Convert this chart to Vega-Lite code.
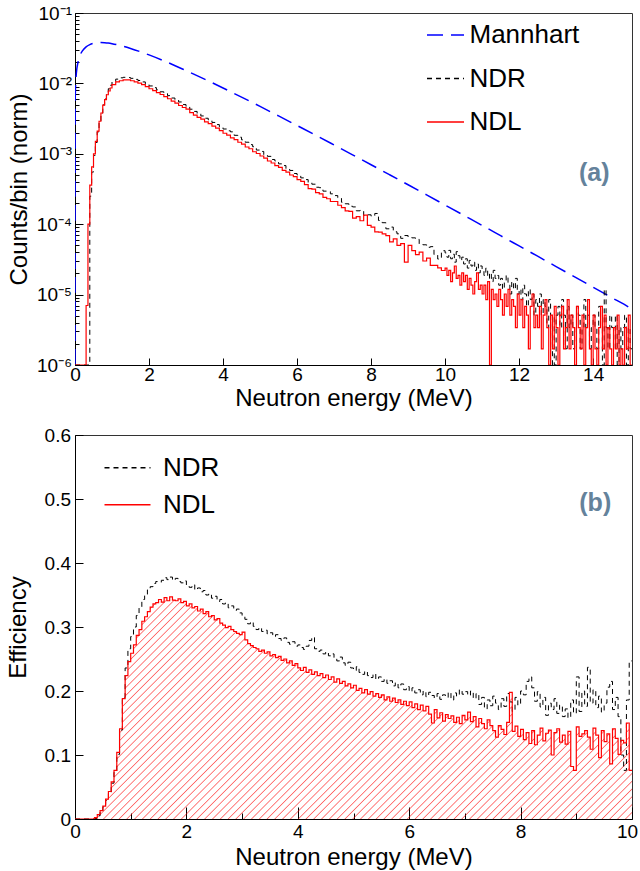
{
"$schema":"https://vega.github.io/schema/vega-lite/v6.json",
"padding":{"left":5,"top":3,"right":0,"bottom":0},
"background":"white",
"config":{
"font":"Liberation Sans",
"view":{"stroke":"#333","strokeWidth":1},
"axis":{"grid":false,"labelFont":"Liberation Sans","labelFontSize":19,"labelColor":"black","titleFont":"Liberation Sans","titleFontSize":24,"titleFontWeight":"normal","titleColor":"black","domainColor":"black","tickColor":"black","labelFlush":false,"labelOverlap":false},
"legend":{"padding":0,"labelFont":"Liberation Sans","labelFontSize":26,"labelColor":"black","symbolType":"stroke","symbolStrokeWidth":1.5}
},
"datasets":{
"mann":[
{"e":0,"Mannhart":1e-6},{"e":0.005,"Mannhart":0.0052},{"e":0.01,"Mannhart":0.00744},{"e":0.02,"Mannhart":0.0105},{"e":0.03,"Mannhart":0.0127},{"e":0.05,"Mannhart":0.0162},{"e":0.075,"Mannhart":0.0193},{"e":0.1,"Mannhart":0.0221},{"e":0.15,"Mannhart":0.0261},{"e":0.2,"Mannhart":0.029},{"e":0.3,"Mannhart":0.0331},{"e":0.4,"Mannhart":0.0356},{"e":0.5,"Mannhart":0.0371},{"e":0.6,"Mannhart":0.0378},{"e":0.7,"Mannhart":0.038},{"e":0.8,"Mannhart":0.0378},{"e":0.9,"Mannhart":0.0374},{"e":1.0,"Mannhart":0.0367},{"e":1.25,"Mannhart":0.0343},{"e":1.5,"Mannhart":0.0314},{"e":1.75,"Mannhart":0.0284},{"e":2.0,"Mannhart":0.0254},{"e":2.5,"Mannhart":0.0199},{"e":3.0,"Mannhart":0.0152},{"e":3.5,"Mannhart":0.0115},{"e":4.0,"Mannhart":0.0086},{"e":4.5,"Mannhart":0.00638},{"e":5.0,"Mannhart":0.00471},{"e":5.5,"Mannhart":0.00345},{"e":6.0,"Mannhart":0.00252},{"e":6.5,"Mannhart":0.00184},{"e":7.0,"Mannhart":0.001335},{"e":7.5,"Mannhart":0.000967},{"e":8.0,"Mannhart":0.000699},{"e":8.5,"Mannhart":0.000504},{"e":9.0,"Mannhart":0.000363},{"e":9.5,"Mannhart":0.000261},{"e":10,"Mannhart":0.000187},{"e":10.5,"Mannhart":0.000134},{"e":11,"Mannhart":9.61e-5},{"e":11.5,"Mannhart":6.87e-5},{"e":12,"Mannhart":4.91e-5},{"e":12.5,"Mannhart":3.51e-5},{"e":13,"Mannhart":2.5e-5},{"e":13.5,"Mannhart":1.785e-5},{"e":14,"Mannhart":1.272e-5},{"e":14.5,"Mannhart":9.06e-6},{"e":15,"Mannhart":6.45e-6},{"e":15.05,"Mannhart":6.2e-6}
],
"topH":[
{"e":0,"NDR":1e-6,"NDL":1e-6},{"e":0.05,"NDR":1e-6,"NDL":1e-6},{"e":0.1,"NDR":1e-6,"NDL":1e-6},{"e":0.15,"NDR":1e-6,"NDL":1e-6},{"e":0.2,"NDR":1e-6,"NDL":1e-6},{"e":0.25,"NDR":1e-6,"NDL":1e-6},{"e":0.3,"NDR":1e-6,"NDL":7e-6},{"e":0.35,"NDR":1e-6,"NDL":1e-4},{"e":0.4,"NDR":2.5e-4,"NDL":3.6e-4},{"e":0.45,"NDR":5.5e-4,"NDL":6.5e-4},{"e":0.5,"NDR":9.5e-4,"NDL":1e-3},{"e":0.55,"NDR":1.45e-3,"NDL":1.5e-3},{"e":0.6,"NDR":2.05e-3,"NDL":2.1e-3},{"e":0.65,"NDR":2.85e-3,"NDL":2.9e-3},{"e":0.7,"NDR":3.8e-3,"NDL":3.8e-3},{"e":0.75,"NDR":4.95e-3,"NDL":4.9e-3},{"e":0.8,"NDR":6.1e-3,"NDL":5.9e-3},{"e":0.85,"NDR":7.3e-3,"NDL":6.9e-3},{"e":0.9,"NDR":8.4e-3,"NDL":7.8e-3},{"e":0.95,"NDR":9.4e-3,"NDL":8.6e-3},
{"e":1.0,"NDR":1.05e-2,"NDL":9.6e-3},{"e":1.1,"NDR":1.15e-2,"NDL":1.05e-2},{"e":1.2,"NDR":1.2e-2,"NDL":1.09e-2},{"e":1.3,"NDR":1.22e-2,"NDL":1.12e-2},{"e":1.4,"NDR":1.21e-2,"NDL":1.12e-2},{"e":1.5,"NDR":1.18e-2,"NDL":1.09e-2},{"e":1.6,"NDR":1.14e-2,"NDL":1.05e-2},{"e":1.7,"NDR":1.1e-2,"NDL":1.01e-2},{"e":1.8,"NDR":1.05e-2,"NDL":9.6e-3},{"e":1.9,"NDR":9.9e-3,"NDL":9.0e-3},
{"e":2.0,"NDR":9.2e-3,"NDL":8.4e-3},{"e":2.1,"NDR":8.7e-3,"NDL":7.9e-3},{"e":2.2,"NDR":8.1e-3,"NDL":7.4e-3},{"e":2.3,"NDR":7.6e-3,"NDL":6.95e-3},{"e":2.4,"NDR":7.15e-3,"NDL":6.5e-3},{"e":2.5,"NDR":6.7e-3,"NDL":6.05e-3},{"e":2.6,"NDR":6.2e-3,"NDL":5.6e-3},{"e":2.7,"NDR":5.85e-3,"NDL":5.25e-3},{"e":2.8,"NDR":5.45e-3,"NDL":4.85e-3},{"e":2.9,"NDR":5.0e-3,"NDL":4.55e-3},
{"e":3.0,"NDR":4.7e-3,"NDL":4.3e-3},{"e":3.1,"NDR":4.3e-3,"NDL":3.85e-3},{"e":3.2,"NDR":4.0e-3,"NDL":3.55e-3},{"e":3.3,"NDR":3.7e-3,"NDL":3.3e-3},{"e":3.4,"NDR":3.45e-3,"NDL":3.1e-3},{"e":3.5,"NDR":3.2e-3,"NDL":2.85e-3},{"e":3.6,"NDR":3.02e-3,"NDL":2.68e-3},{"e":3.7,"NDR":2.79e-3,"NDL":2.47e-3},{"e":3.8,"NDR":2.6e-3,"NDL":2.31e-3},{"e":3.9,"NDR":2.43e-3,"NDL":2.13e-3},
{"e":4.0,"NDR":2.25e-3,"NDL":1.96e-3},{"e":4.1,"NDR":2.12e-3,"NDL":1.84e-3},{"e":4.2,"NDR":2.05e-3,"NDL":1.68e-3},{"e":4.3,"NDR":1.83e-3,"NDL":1.59e-3},{"e":4.4,"NDR":1.72e-3,"NDL":1.46e-3},{"e":4.5,"NDR":1.58e-3,"NDL":1.37e-3},{"e":4.6,"NDR":1.46e-3,"NDL":1.25e-3},{"e":4.7,"NDR":1.35e-3,"NDL":1.18e-3},{"e":4.8,"NDR":1.26e-3,"NDL":1.07e-3},{"e":4.9,"NDR":1.13e-3,"NDL":1.01e-3},
{"e":5.0,"NDR":1.08e-3,"NDL":9.3e-4},{"e":5.1,"NDR":9.7e-4,"NDL":8.7e-4},{"e":5.2,"NDR":9.2e-4,"NDL":7.9e-4},{"e":5.3,"NDR":8.3e-4,"NDL":7.4e-4},{"e":5.4,"NDR":7.9e-4,"NDL":6.8e-4},{"e":5.5,"NDR":7.2e-4,"NDL":6.4e-4},{"e":5.6,"NDR":6.8e-4,"NDL":5.8e-4},{"e":5.7,"NDR":6.1e-4,"NDL":5.5e-4},{"e":5.8,"NDR":5.8e-4,"NDL":5.0e-4},{"e":5.9,"NDR":5.25e-4,"NDL":4.75e-4},
{"e":6.0,"NDR":5.0e-4,"NDL":4.3e-4},{"e":6.1,"NDR":4.55e-4,"NDL":4.05e-4},{"e":6.2,"NDR":4.3e-4,"NDL":3.65e-4},{"e":6.3,"NDR":3.9e-4,"NDL":3.2e-4},{"e":6.4,"NDR":3.7e-4,"NDL":3.15e-4},{"e":6.5,"NDR":3.35e-4,"NDL":2.8e-4},{"e":6.6,"NDR":3.3e-4,"NDL":2.7e-4},{"e":6.7,"NDR":2.95e-4,"NDL":2.4e-4},{"e":6.8,"NDR":2.9e-4,"NDL":2.3e-4},{"e":6.9,"NDR":2.7e-4,"NDL":2.1e-4},
{"e":7.0,"NDR":2.55e-4,"NDL":2.1e-4},{"e":7.1,"NDR":2.38e-4,"NDL":1.86e-4},{"e":7.2,"NDR":2.05e-4,"NDL":1.72e-4},{"e":7.3,"NDR":1.95e-4,"NDL":1.55e-4},{"e":7.4,"NDR":1.8e-4,"NDL":1.52e-4},{"e":7.5,"NDR":1.76e-4,"NDL":1.22e-4},{"e":7.6,"NDR":1.55e-4,"NDL":1.28e-4},{"e":7.7,"NDR":1.57e-4,"NDL":1.12e-4},{"e":7.8,"NDR":1.33e-4,"NDL":1.35e-4},{"e":7.9,"NDR":1.36e-4,"NDL":9.6e-5},
{"e":8.0,"NDR":1.3e-4,"NDL":9.1e-5},{"e":8.1,"NDR":1.42e-4,"NDL":7.8e-5},{"e":8.2,"NDR":1.13e-4,"NDL":7.7e-5},{"e":8.3,"NDR":1.05e-4,"NDL":7.3e-5},{"e":8.4,"NDR":8.6e-5,"NDL":6.9e-5},{"e":8.5,"NDR":9.1e-5,"NDL":5.6e-5},{"e":8.6,"NDR":7.8e-5,"NDL":6.2e-5},{"e":8.7,"NDR":7.3e-5,"NDL":5.0e-5},{"e":8.8,"NDR":6.3e-5,"NDL":5.3e-5},{"e":8.9,"NDR":6.9e-5,"NDL":2.9e-5},
{"e":9.0,"NDR":6.5e-5,"NDL":5.0e-5},{"e":9.1,"NDR":6.4e-5,"NDL":4.2e-5},{"e":9.2,"NDR":6.1e-5,"NDL":3.7e-5},{"e":9.3,"NDR":5.2e-5,"NDL":4.0e-5},{"e":9.4,"NDR":5.1e-5,"NDL":3.0e-5},{"e":9.5,"NDR":4.7e-5,"NDL":3.3e-5},{"e":9.6,"NDR":4.8e-5,"NDL":2.6e-5},{"e":9.7,"NDR":3.7e-5,"NDL":2.6e-5},{"e":9.8,"NDR":3.2e-5,"NDL":2.4e-5},{"e":9.9,"NDR":4.2e-5,"NDL":2.2e-5},
{"e":10.0,"NDR":3.91e-5,"NDL":2.38e-5},{"e":10.05,"NDR":3.4e-5,"NDL":1.87e-5},{"e":10.1,"NDR":4.25e-5,"NDL":2.21e-5},{"e":10.15,"NDR":3.23e-5,"NDL":1.53e-5},{"e":10.2,"NDR":3.74e-5,"NDL":2.04e-5},{"e":10.25,"NDR":2.89e-5,"NDL":2.55e-5},{"e":10.3,"NDR":4.08e-5,"NDL":1.7e-5},{"e":10.35,"NDR":3.57e-5,"NDL":1.87e-5},{"e":10.4,"NDR":3.06e-5,"NDL":1.36e-5},{"e":10.45,"NDR":3.4e-5,"NDL":2.04e-5},
{"e":10.5,"NDR":2.72e-5,"NDL":1.53e-5},{"e":10.55,"NDR":3.23e-5,"NDL":1.87e-5},{"e":10.6,"NDR":2.38e-5,"NDL":1.19e-5},{"e":10.65,"NDR":3.06e-5,"NDL":1.7e-5},{"e":10.7,"NDR":2.55e-5,"NDL":1.36e-5},{"e":10.75,"NDR":2.89e-5,"NDL":1.02e-5},{"e":10.8,"NDR":2.21e-5,"NDL":1.53e-5},{"e":10.85,"NDR":2.72e-5,"NDL":2.04e-5},{"e":10.9,"NDR":2.04e-5,"NDL":1.19e-5},{"e":10.95,"NDR":2.55e-5,"NDL":1.36e-5},
{"e":11.0,"NDR":2.21e-5,"NDL":1.02e-5},{"e":11.05,"NDR":1.87e-5,"NDL":1.36e-5},{"e":11.1,"NDR":2.38e-5,"NDL":8.5e-6},{"e":11.15,"NDR":1.7e-5,"NDL":1.53e-5},{"e":11.2,"NDR":2.04e-5,"NDL":1e-6},{"e":11.25,"NDR":1.53e-5,"NDL":1.19e-5},{"e":11.3,"NDR":2.21e-5,"NDL":8.5e-6},{"e":11.35,"NDR":1.7e-5,"NDL":1.02e-5},{"e":11.4,"NDR":1.87e-5,"NDL":6.8e-6},{"e":11.45,"NDR":1.36e-5,"NDL":1.19e-5},
{"e":11.5,"NDR":1.7e-5,"NDL":8.5e-6},{"e":11.55,"NDR":1.19e-5,"NDL":5.1e-6},{"e":11.6,"NDR":1.53e-5,"NDL":1.02e-5},{"e":11.65,"NDR":1.87e-5,"NDL":6.8e-6},{"e":11.7,"NDR":1.36e-5,"NDL":1.19e-5},{"e":11.75,"NDR":1.02e-5,"NDL":5.1e-6},{"e":11.8,"NDR":1.53e-5,"NDL":8.5e-6},{"e":11.85,"NDR":1.19e-5,"NDL":6.8e-6},{"e":11.9,"NDR":1.7e-5,"NDL":3.4e-6},{"e":11.95,"NDR":1.02e-5,"NDL":1.02e-5},
{"e":12.0,"NDR":1.19e-5,"NDL":5.1e-6},{"e":12.05,"NDR":8.5e-6,"NDL":8.5e-6},{"e":12.1,"NDR":1.36e-5,"NDL":3.4e-6},{"e":12.15,"NDR":1.02e-5,"NDL":6.8e-6},{"e":12.2,"NDR":6.8e-6,"NDL":5.1e-6},{"e":12.25,"NDR":1.19e-5,"NDL":1.7e-6},{"e":12.3,"NDR":8.5e-6,"NDL":6.8e-6},{"e":12.35,"NDR":1.02e-5,"NDL":1.02e-5},{"e":12.4,"NDR":5.1e-6,"NDL":3.4e-6},{"e":12.45,"NDR":8.5e-6,"NDL":5.1e-6},
{"e":12.5,"NDR":6.8e-6,"NDL":3.4e-6},{"e":12.55,"NDR":1.02e-5,"NDL":6.8e-6},{"e":12.6,"NDR":5.1e-6,"NDL":1.7e-6},{"e":12.65,"NDR":8.5e-6,"NDL":5.1e-6},{"e":12.7,"NDR":6.8e-6,"NDL":8.5e-6},{"e":12.75,"NDR":3.4e-6,"NDL":3.4e-6},{"e":12.8,"NDR":8.5e-6,"NDL":1e-6},{"e":12.85,"NDR":1e-6,"NDL":5.1e-6},{"e":12.9,"NDR":5.1e-6,"NDL":1.7e-6},{"e":12.95,"NDR":1e-6,"NDL":6.8e-6},
{"e":13.0,"NDR":5.1e-6,"NDL":3.4e-6},{"e":13.05,"NDR":6.8e-6,"NDL":1e-6},{"e":13.1,"NDR":3.4e-6,"NDL":5.1e-6},{"e":13.15,"NDR":8.5e-6,"NDL":6.8e-6},{"e":13.2,"NDR":5.1e-6,"NDL":1.7e-6},{"e":13.25,"NDR":1.7e-6,"NDL":3.4e-6},{"e":13.3,"NDR":6.8e-6,"NDL":8.5e-6},{"e":13.35,"NDR":3.4e-6,"NDL":1.7e-6},{"e":13.4,"NDR":5.1e-6,"NDL":5.1e-6},{"e":13.45,"NDR":1.7e-6,"NDL":3.4e-6},
{"e":13.5,"NDR":3.4e-6,"NDL":1e-6},{"e":13.55,"NDR":6.8e-6,"NDL":6.8e-6},{"e":13.6,"NDR":5.1e-6,"NDL":3.4e-6},{"e":13.65,"NDR":1.7e-6,"NDL":1.7e-6},{"e":13.7,"NDR":3.4e-6,"NDL":5.1e-6},{"e":13.75,"NDR":8.5e-6,"NDL":1e-6},{"e":13.8,"NDR":3.4e-6,"NDL":3.4e-6},{"e":13.85,"NDR":5.1e-6,"NDL":8.5e-6},{"e":13.9,"NDR":1.7e-6,"NDL":1.7e-6},{"e":13.95,"NDR":3.4e-6,"NDL":1e-6},
{"e":14.0,"NDR":5.1e-6,"NDL":5.1e-6},{"e":14.05,"NDR":3.4e-6,"NDL":1.7e-6},{"e":14.1,"NDR":1.7e-6,"NDL":1e-6},{"e":14.15,"NDR":6.8e-6,"NDL":3.4e-6},{"e":14.2,"NDR":3.4e-6,"NDL":6.8e-6},{"e":14.25,"NDR":1e-6,"NDL":1.7e-6},{"e":14.3,"NDR":1.19e-5,"NDL":5.1e-6},{"e":14.35,"NDR":3.4e-6,"NDL":1e-6},{"e":14.4,"NDR":1.7e-6,"NDL":3.4e-6},{"e":14.45,"NDR":5.1e-6,"NDL":1.7e-6},
{"e":14.5,"NDR":3.4e-6,"NDL":1e-6},{"e":14.55,"NDR":1.7e-6,"NDL":3.4e-6},{"e":14.6,"NDR":5.1e-6,"NDL":1.7e-6},{"e":14.65,"NDR":1e-6,"NDL":5.1e-6},{"e":14.7,"NDR":3.4e-6,"NDL":1e-6},{"e":14.75,"NDR":1.7e-6,"NDL":1.7e-6},{"e":14.8,"NDR":3.4e-6,"NDL":1e-6},{"e":14.85,"NDR":5.1e-6,"NDL":3.4e-6},{"e":14.9,"NDR":1e-6,"NDL":1.7e-6},{"e":14.95,"NDR":3.4e-6,"NDL":5.1e-6},
{"e":15.0,"NDR":1.7e-6,"NDL":1e-6},{"e":15.05,"NDR":1.7e-6,"NDL":1e-6}
],
"bot":[
{"e":0,"NDR":0,"NDL":0},{"e":0.05,"NDR":0,"NDL":0},{"e":0.1,"NDR":0,"NDL":0},{"e":0.15,"NDR":0,"NDL":0},{"e":0.2,"NDR":0,"NDL":0},{"e":0.25,"NDR":0,"NDL":0},{"e":0.3,"NDR":0,"NDL":0},{"e":0.35,"NDR":0.001,"NDL":0.002},{"e":0.4,"NDR":0.005,"NDL":0.007},{"e":0.45,"NDR":0.011,"NDL":0.013},
{"e":0.5,"NDR":0.019,"NDL":0.02},{"e":0.55,"NDR":0.029,"NDL":0.031},{"e":0.6,"NDR":0.041,"NDL":0.043},{"e":0.65,"NDR":0.056,"NDL":0.058},{"e":0.7,"NDR":0.073,"NDL":0.076},{"e":0.75,"NDR":0.101,"NDL":0.104},{"e":0.8,"NDR":0.139,"NDL":0.141},{"e":0.85,"NDR":0.19,"NDL":0.188},{"e":0.9,"NDR":0.236,"NDL":0.224},{"e":0.95,"NDR":0.266,"NDL":0.246},
{"e":1.0,"NDR":0.285,"NDL":0.259},{"e":1.05,"NDR":0.3,"NDL":0.272},{"e":1.1,"NDR":0.318,"NDL":0.287},{"e":1.15,"NDR":0.33,"NDL":0.296},{"e":1.2,"NDR":0.343,"NDL":0.309},{"e":1.25,"NDR":0.35,"NDL":0.316},{"e":1.3,"NDR":0.358,"NDL":0.324},{"e":1.35,"NDR":0.363,"NDL":0.331},{"e":1.4,"NDR":0.368,"NDL":0.336},{"e":1.45,"NDR":0.371,"NDL":0.338},
{"e":1.5,"NDR":0.37,"NDL":0.343},{"e":1.55,"NDR":0.373,"NDL":0.339},{"e":1.6,"NDR":0.377,"NDL":0.346},{"e":1.65,"NDR":0.374,"NDL":0.341},{"e":1.7,"NDR":0.378,"NDL":0.347},{"e":1.75,"NDR":0.373,"NDL":0.342},{"e":1.8,"NDR":0.376,"NDL":0.341},{"e":1.85,"NDR":0.371,"NDL":0.344},{"e":1.9,"NDR":0.369,"NDL":0.338},{"e":1.95,"NDR":0.372,"NDL":0.34},
{"e":2.0,"NDR":0.365,"NDL":0.333},{"e":2.05,"NDR":0.362,"NDL":0.336},{"e":2.1,"NDR":0.366,"NDL":0.33},{"e":2.15,"NDR":0.358,"NDL":0.332},{"e":2.2,"NDR":0.361,"NDL":0.325},{"e":2.25,"NDR":0.355,"NDL":0.328},{"e":2.3,"NDR":0.357,"NDL":0.321},{"e":2.35,"NDR":0.35,"NDL":0.324},{"e":2.4,"NDR":0.352,"NDL":0.316},{"e":2.45,"NDR":0.345,"NDL":0.318},
{"e":2.5,"NDR":0.348,"NDL":0.311},{"e":2.55,"NDR":0.34,"NDL":0.313},{"e":2.6,"NDR":0.343,"NDL":0.306},{"e":2.65,"NDR":0.336,"NDL":0.303},{"e":2.7,"NDR":0.338,"NDL":0.299},{"e":2.75,"NDR":0.33,"NDL":0.301},{"e":2.8,"NDR":0.333,"NDL":0.296},{"e":2.85,"NDR":0.326,"NDL":0.293},{"e":2.9,"NDR":0.328,"NDL":0.29},{"e":2.95,"NDR":0.322,"NDL":0.288},
{"e":3.0,"NDR":0.318,"NDL":0.292},{"e":3.05,"NDR":0.312,"NDL":0.28},{"e":3.1,"NDR":0.305,"NDL":0.274},{"e":3.15,"NDR":0.308,"NDL":0.271},{"e":3.2,"NDR":0.301,"NDL":0.268},{"e":3.25,"NDR":0.296,"NDL":0.266},{"e":3.3,"NDR":0.299,"NDL":0.262},{"e":3.35,"NDR":0.293,"NDL":0.264},{"e":3.4,"NDR":0.295,"NDL":0.259},{"e":3.45,"NDR":0.289,"NDL":0.261},
{"e":3.5,"NDR":0.291,"NDL":0.255},{"e":3.55,"NDR":0.285,"NDL":0.257},{"e":3.6,"NDR":0.288,"NDL":0.252},{"e":3.65,"NDR":0.282,"NDL":0.254},{"e":3.7,"NDR":0.279,"NDL":0.248},{"e":3.75,"NDR":0.283,"NDL":0.25},{"e":3.8,"NDR":0.276,"NDL":0.244},{"e":3.85,"NDR":0.273,"NDL":0.247},{"e":3.9,"NDR":0.277,"NDL":0.24},{"e":3.95,"NDR":0.27,"NDL":0.243},
{"e":4.0,"NDR":0.272,"NDL":0.236},{"e":4.05,"NDR":0.268,"NDL":0.232},{"e":4.1,"NDR":0.265,"NDL":0.237},{"e":4.15,"NDR":0.27,"NDL":0.229},{"e":4.2,"NDR":0.279,"NDL":0.233},{"e":4.25,"NDR":0.284,"NDL":0.226},{"e":4.3,"NDR":0.266,"NDL":0.23},{"e":4.35,"NDR":0.262,"NDL":0.224},{"e":4.4,"NDR":0.264,"NDL":0.227},{"e":4.45,"NDR":0.258,"NDL":0.221},
{"e":4.5,"NDR":0.261,"NDL":0.225},{"e":4.55,"NDR":0.255,"NDL":0.218},{"e":4.6,"NDR":0.258,"NDL":0.222},{"e":4.65,"NDR":0.251,"NDL":0.214},{"e":4.7,"NDR":0.247,"NDL":0.219},{"e":4.75,"NDR":0.253,"NDL":0.212},{"e":4.8,"NDR":0.244,"NDL":0.215},{"e":4.85,"NDR":0.24,"NDL":0.208},{"e":4.9,"NDR":0.245,"NDL":0.211},{"e":4.95,"NDR":0.236,"NDL":0.205},
{"e":5.0,"NDR":0.232,"NDL":0.209},{"e":5.05,"NDR":0.238,"NDL":0.201},{"e":5.1,"NDR":0.229,"NDL":0.204},{"e":5.15,"NDR":0.226,"NDL":0.197},{"e":5.2,"NDR":0.231,"NDL":0.202},{"e":5.25,"NDR":0.224,"NDL":0.195},{"e":5.3,"NDR":0.221,"NDL":0.199},{"e":5.35,"NDR":0.227,"NDL":0.192},{"e":5.4,"NDR":0.218,"NDL":0.196},{"e":5.45,"NDR":0.222,"NDL":0.19},
{"e":5.5,"NDR":0.215,"NDL":0.194},{"e":5.55,"NDR":0.219,"NDL":0.186},{"e":5.6,"NDR":0.212,"NDL":0.191},{"e":5.65,"NDR":0.216,"NDL":0.184},{"e":5.7,"NDR":0.208,"NDL":0.189},{"e":5.75,"NDR":0.213,"NDL":0.182},{"e":5.8,"NDR":0.205,"NDL":0.186},{"e":5.85,"NDR":0.211,"NDL":0.179},{"e":5.9,"NDR":0.202,"NDL":0.184},{"e":5.95,"NDR":0.207,"NDL":0.177},
{"e":6.0,"NDR":0.199,"NDL":0.183},{"e":6.05,"NDR":0.205,"NDL":0.174},{"e":6.1,"NDR":0.197,"NDL":0.18},{"e":6.15,"NDR":0.202,"NDL":0.171},{"e":6.2,"NDR":0.194,"NDL":0.178},{"e":6.25,"NDR":0.2,"NDL":0.169},{"e":6.3,"NDR":0.191,"NDL":0.176},{"e":6.35,"NDR":0.198,"NDL":0.164},{"e":6.4,"NDR":0.193,"NDL":0.15},{"e":6.45,"NDR":0.189,"NDL":0.171},
{"e":6.5,"NDR":0.196,"NDL":0.158},{"e":6.55,"NDR":0.187,"NDL":0.166},{"e":6.6,"NDR":0.194,"NDL":0.153},{"e":6.65,"NDR":0.19,"NDL":0.163},{"e":6.7,"NDR":0.198,"NDL":0.157},{"e":6.75,"NDR":0.186,"NDL":0.161},{"e":6.8,"NDR":0.197,"NDL":0.151},{"e":6.85,"NDR":0.192,"NDL":0.159},{"e":6.9,"NDR":0.202,"NDL":0.149},{"e":6.95,"NDR":0.195,"NDL":0.162},
{"e":7.0,"NDR":0.199,"NDL":0.155},{"e":7.05,"NDR":0.193,"NDL":0.167},{"e":7.1,"NDR":0.2,"NDL":0.152},{"e":7.15,"NDR":0.188,"NDL":0.16},{"e":7.2,"NDR":0.196,"NDL":0.144},{"e":7.25,"NDR":0.179,"NDL":0.157},{"e":7.3,"NDR":0.19,"NDL":0.149},{"e":7.35,"NDR":0.172,"NDL":0.141},{"e":7.4,"NDR":0.186,"NDL":0.155},{"e":7.45,"NDR":0.177,"NDL":0.146},
{"e":7.5,"NDR":0.192,"NDL":0.138},{"e":7.55,"NDR":0.181,"NDL":0.128},{"e":7.6,"NDR":0.171,"NDL":0.146},{"e":7.65,"NDR":0.188,"NDL":0.14},{"e":7.7,"NDR":0.176,"NDL":0.132},{"e":7.75,"NDR":0.196,"NDL":0.151},{"e":7.8,"NDR":0.183,"NDL":0.198},{"e":7.85,"NDR":0.168,"NDL":0.137},{"e":7.9,"NDR":0.19,"NDL":0.145},{"e":7.95,"NDR":0.178,"NDL":0.129},
{"e":8.0,"NDR":0.2,"NDL":0.14},{"e":8.05,"NDR":0.194,"NDL":0.124},{"e":8.1,"NDR":0.215,"NDL":0.135},{"e":8.15,"NDR":0.222,"NDL":0.118},{"e":8.2,"NDR":0.205,"NDL":0.138},{"e":8.25,"NDR":0.184,"NDL":0.116},{"e":8.3,"NDR":0.199,"NDL":0.131},{"e":8.35,"NDR":0.175,"NDL":0.142},{"e":8.4,"NDR":0.19,"NDL":0.122},{"e":8.45,"NDR":0.162,"NDL":0.134},
{"e":8.5,"NDR":0.181,"NDL":0.139},{"e":8.55,"NDR":0.171,"NDL":0.1},{"e":8.6,"NDR":0.188,"NDL":0.135},{"e":8.65,"NDR":0.165,"NDL":0.141},{"e":8.7,"NDR":0.178,"NDL":0.12},{"e":8.75,"NDR":0.16,"NDL":0.131},{"e":8.8,"NDR":0.172,"NDL":0.117},{"e":8.85,"NDR":0.158,"NDL":0.137},{"e":8.9,"NDR":0.186,"NDL":0.082},{"e":8.95,"NDR":0.165,"NDL":0.076},
{"e":9.0,"NDR":0.222,"NDL":0.144},{"e":9.05,"NDR":0.168,"NDL":0.129},{"e":9.1,"NDR":0.2,"NDL":0.133},{"e":9.15,"NDR":0.176,"NDL":0.138},{"e":9.2,"NDR":0.237,"NDL":0.128},{"e":9.25,"NDR":0.181,"NDL":0.109},{"e":9.3,"NDR":0.202,"NDL":0.142},{"e":9.35,"NDR":0.174,"NDL":0.131},{"e":9.4,"NDR":0.192,"NDL":0.096},{"e":9.45,"NDR":0.167,"NDL":0.138},
{"e":9.5,"NDR":0.181,"NDL":0.121},{"e":9.55,"NDR":0.206,"NDL":0.133},{"e":9.6,"NDR":0.215,"NDL":0.086},{"e":9.65,"NDR":0.171,"NDL":0.141},{"e":9.7,"NDR":0.19,"NDL":0.126},{"e":9.75,"NDR":0.16,"NDL":0.101},{"e":9.8,"NDR":0.1,"NDL":0.123},{"e":9.85,"NDR":0.076,"NDL":0.119},{"e":9.9,"NDR":0.186,"NDL":0.15},{"e":9.95,"NDR":0.247,"NDL":0.076},
{"e":10.0,"NDR":0.247,"NDL":0.076}
]
},
"spacing":14,
"resolve":{"scale":{"color":"independent","strokeDash":"independent"},"legend":{"color":"independent","strokeDash":"independent"}},
"vconcat":[
{
"width":557,"height":352,
"layer":[
{
"data":{"name":"mann"},
"transform":[{"fold":["Mannhart"],"as":["series","v"]}],
"mark":{"type":"line","interpolate":"monotone","strokeWidth":1.5,"clip":true},
"encoding":{
"x":{"field":"e","type":"quantitative","scale":{"domain":[0,15.05],"nice":false,"zero":false},
"axis":{"title":"Neutron energy (MeV)","values":[0,1,2,3,4,5,6,7,8,9,10,11,12,13,14,15],"labelExpr":"datum.value % 2 === 0 ? datum.label : ''","tickSize":{"condition":{"test":"datum.value % 2 === 0","value":-7},"value":-4},"labelPadding":7,"titlePadding":2}},
"y":{"field":"v","type":"quantitative","scale":{"type":"log","domain":[1e-6,0.1],"nice":false},
"axis":{"title":"Counts/bin (norm)","values":[1e-6,2e-6,3e-6,4e-6,5e-6,6e-6,7e-6,8e-6,9e-6,1e-5,2e-5,3e-5,4e-5,5e-5,6e-5,7e-5,8e-5,9e-5,1e-4,2e-4,3e-4,4e-4,5e-4,6e-4,7e-4,8e-4,9e-4,0.001,0.002,0.003,0.004,0.005,0.006,0.007,0.008,0.009,0.01,0.02,0.03,0.04,0.05,0.06,0.07,0.08,0.09,0.1],
"labelExpr":"abs(log(datum.value)/LN10 - round(log(datum.value)/LN10)) < 0.001 ? '10' + ['⁻¹','⁻²','⁻³','⁻⁴','⁻⁵','⁻⁶'][-round(log(datum.value)/LN10) - 1] : ''",
"tickSize":{"condition":{"test":"abs(log(datum.value)/LN10 - round(log(datum.value)/LN10)) < 0.001","value":-8},"value":-4},"labelPadding":11.5,"titlePadding":5}},
"color":{"field":"series","type":"nominal","scale":{"domain":["Mannhart","NDR","NDL"],"range":["#0000ff","#000000","#ff0000"]},
"legend":{"title":null,"orient":"none","legendX":351,"legendY":2.5,"symbolSize":1369,"rowPadding":10.5,"labelOffset":4.5}},
"strokeDash":{"field":"series","type":"nominal","scale":{"domain":["Mannhart","NDR","NDL"],"range":[[16,8],[5,4],[1,0]]},
"legend":{"title":null,"orient":"none","legendX":351,"legendY":2.5,"symbolSize":1369,"rowPadding":10.5,"labelOffset":4.5}}
}
},
{
"data":{"name":"topH"},
"transform":[{"fold":["NDR"],"as":["series","v"]}],
"mark":{"type":"line","interpolate":"step-after","strokeWidth":1,"clip":true},
"encoding":{
"x":{"field":"e","type":"quantitative"},
"y":{"field":"v","type":"quantitative"},
"color":{"field":"series","type":"nominal"},
"strokeDash":{"field":"series","type":"nominal"}
}
},
{
"data":{"name":"topH"},
"transform":[{"fold":["NDL"],"as":["series","v"]}],
"mark":{"type":"line","interpolate":"step-after","strokeWidth":1.2,"clip":true},
"encoding":{
"x":{"field":"e","type":"quantitative"},
"y":{"field":"v","type":"quantitative"},
"color":{"field":"series","type":"nominal"},
"strokeDash":{"field":"series","type":"nominal"}
}
},
{
"data":{"values":[{}]},
"mark":{"type":"text","text":"(a)","font":"Liberation Sans","fontSize":25,"fontWeight":"bold","color":"#64829b"},
"encoding":{"x":{"datum":14.03,"type":"quantitative"},"y":{"datum":5.4e-4,"type":"quantitative"}}
}
]
},
{
"width":557,"height":384,
"layer":[
{
"data":{"name":"bot"},
"transform":[{"fold":["NDL"],"as":["series","v"]}],
"mark":{"type":"area","interpolate":"step-after","clip":true,"fillOpacity":0.6,
"fill":{"gradient":"linear","x1":0,"y1":0,"x2":1.2069,"y2":0.481,"stops":[
{"offset":0,"color":"#f000"},{"offset":0.0015,"color":"red"},{"offset":0.003,"color":"#f000"},
{"offset":0.01,"color":"#f000"},{"offset":0.0115,"color":"red"},{"offset":0.013,"color":"#f000"},
{"offset":0.02,"color":"#f000"},{"offset":0.0215,"color":"red"},{"offset":0.023,"color":"#f000"},
{"offset":0.03,"color":"#f000"},{"offset":0.0315,"color":"red"},{"offset":0.033,"color":"#f000"},
{"offset":0.04,"color":"#f000"},{"offset":0.0415,"color":"red"},{"offset":0.043,"color":"#f000"},
{"offset":0.05,"color":"#f000"},{"offset":0.0515,"color":"red"},{"offset":0.053,"color":"#f000"},
{"offset":0.06,"color":"#f000"},{"offset":0.0615,"color":"red"},{"offset":0.063,"color":"#f000"},
{"offset":0.07,"color":"#f000"},{"offset":0.0715,"color":"red"},{"offset":0.073,"color":"#f000"},
{"offset":0.08,"color":"#f000"},{"offset":0.0815,"color":"red"},{"offset":0.083,"color":"#f000"},
{"offset":0.09,"color":"#f000"},{"offset":0.0915,"color":"red"},{"offset":0.093,"color":"#f000"},
{"offset":0.1,"color":"#f000"},{"offset":0.1015,"color":"red"},{"offset":0.103,"color":"#f000"},
{"offset":0.11,"color":"#f000"},{"offset":0.1115,"color":"red"},{"offset":0.113,"color":"#f000"},
{"offset":0.12,"color":"#f000"},{"offset":0.1215,"color":"red"},{"offset":0.123,"color":"#f000"},
{"offset":0.13,"color":"#f000"},{"offset":0.1315,"color":"red"},{"offset":0.133,"color":"#f000"},
{"offset":0.14,"color":"#f000"},{"offset":0.1415,"color":"red"},{"offset":0.143,"color":"#f000"},
{"offset":0.15,"color":"#f000"},{"offset":0.1515,"color":"red"},{"offset":0.153,"color":"#f000"},
{"offset":0.16,"color":"#f000"},{"offset":0.1615,"color":"red"},{"offset":0.163,"color":"#f000"},
{"offset":0.17,"color":"#f000"},{"offset":0.1715,"color":"red"},{"offset":0.173,"color":"#f000"},
{"offset":0.18,"color":"#f000"},{"offset":0.1815,"color":"red"},{"offset":0.183,"color":"#f000"},
{"offset":0.19,"color":"#f000"},{"offset":0.1915,"color":"red"},{"offset":0.193,"color":"#f000"},
{"offset":0.2,"color":"#f000"},{"offset":0.2015,"color":"red"},{"offset":0.203,"color":"#f000"},
{"offset":0.21,"color":"#f000"},{"offset":0.2115,"color":"red"},{"offset":0.213,"color":"#f000"},
{"offset":0.22,"color":"#f000"},{"offset":0.2215,"color":"red"},{"offset":0.223,"color":"#f000"},
{"offset":0.23,"color":"#f000"},{"offset":0.2315,"color":"red"},{"offset":0.233,"color":"#f000"},
{"offset":0.24,"color":"#f000"},{"offset":0.2415,"color":"red"},{"offset":0.243,"color":"#f000"},
{"offset":0.25,"color":"#f000"},{"offset":0.2515,"color":"red"},{"offset":0.253,"color":"#f000"},
{"offset":0.26,"color":"#f000"},{"offset":0.2615,"color":"red"},{"offset":0.263,"color":"#f000"},
{"offset":0.27,"color":"#f000"},{"offset":0.2715,"color":"red"},{"offset":0.273,"color":"#f000"},
{"offset":0.28,"color":"#f000"},{"offset":0.2815,"color":"red"},{"offset":0.283,"color":"#f000"},
{"offset":0.29,"color":"#f000"},{"offset":0.2915,"color":"red"},{"offset":0.293,"color":"#f000"},
{"offset":0.3,"color":"#f000"},{"offset":0.3015,"color":"red"},{"offset":0.303,"color":"#f000"},
{"offset":0.31,"color":"#f000"},{"offset":0.3115,"color":"red"},{"offset":0.313,"color":"#f000"},
{"offset":0.32,"color":"#f000"},{"offset":0.3215,"color":"red"},{"offset":0.323,"color":"#f000"},
{"offset":0.33,"color":"#f000"},{"offset":0.3315,"color":"red"},{"offset":0.333,"color":"#f000"},
{"offset":0.34,"color":"#f000"},{"offset":0.3415,"color":"red"},{"offset":0.343,"color":"#f000"},
{"offset":0.35,"color":"#f000"},{"offset":0.3515,"color":"red"},{"offset":0.353,"color":"#f000"},
{"offset":0.36,"color":"#f000"},{"offset":0.3615,"color":"red"},{"offset":0.363,"color":"#f000"},
{"offset":0.37,"color":"#f000"},{"offset":0.3715,"color":"red"},{"offset":0.373,"color":"#f000"},
{"offset":0.38,"color":"#f000"},{"offset":0.3815,"color":"red"},{"offset":0.383,"color":"#f000"},
{"offset":0.39,"color":"#f000"},{"offset":0.3915,"color":"red"},{"offset":0.393,"color":"#f000"},
{"offset":0.4,"color":"#f000"},{"offset":0.4015,"color":"red"},{"offset":0.403,"color":"#f000"},
{"offset":0.41,"color":"#f000"},{"offset":0.4115,"color":"red"},{"offset":0.413,"color":"#f000"},
{"offset":0.42,"color":"#f000"},{"offset":0.4215,"color":"red"},{"offset":0.423,"color":"#f000"},
{"offset":0.43,"color":"#f000"},{"offset":0.4315,"color":"red"},{"offset":0.433,"color":"#f000"},
{"offset":0.44,"color":"#f000"},{"offset":0.4415,"color":"red"},{"offset":0.443,"color":"#f000"},
{"offset":0.45,"color":"#f000"},{"offset":0.4515,"color":"red"},{"offset":0.453,"color":"#f000"},
{"offset":0.46,"color":"#f000"},{"offset":0.4615,"color":"red"},{"offset":0.463,"color":"#f000"},
{"offset":0.47,"color":"#f000"},{"offset":0.4715,"color":"red"},{"offset":0.473,"color":"#f000"},
{"offset":0.48,"color":"#f000"},{"offset":0.4815,"color":"red"},{"offset":0.483,"color":"#f000"},
{"offset":0.49,"color":"#f000"},{"offset":0.4915,"color":"red"},{"offset":0.493,"color":"#f000"},
{"offset":0.5,"color":"#f000"},{"offset":0.5015,"color":"red"},{"offset":0.503,"color":"#f000"},
{"offset":0.51,"color":"#f000"},{"offset":0.5115,"color":"red"},{"offset":0.513,"color":"#f000"},
{"offset":0.52,"color":"#f000"},{"offset":0.5215,"color":"red"},{"offset":0.523,"color":"#f000"},
{"offset":0.53,"color":"#f000"},{"offset":0.5315,"color":"red"},{"offset":0.533,"color":"#f000"},
{"offset":0.54,"color":"#f000"},{"offset":0.5415,"color":"red"},{"offset":0.543,"color":"#f000"},
{"offset":0.55,"color":"#f000"},{"offset":0.5515,"color":"red"},{"offset":0.553,"color":"#f000"},
{"offset":0.56,"color":"#f000"},{"offset":0.5615,"color":"red"},{"offset":0.563,"color":"#f000"},
{"offset":0.57,"color":"#f000"},{"offset":0.5715,"color":"red"},{"offset":0.573,"color":"#f000"},
{"offset":0.58,"color":"#f000"},{"offset":0.5815,"color":"red"},{"offset":0.583,"color":"#f000"},
{"offset":0.59,"color":"#f000"},{"offset":0.5915,"color":"red"},{"offset":0.593,"color":"#f000"},
{"offset":0.6,"color":"#f000"},{"offset":0.6015,"color":"red"},{"offset":0.603,"color":"#f000"},
{"offset":0.61,"color":"#f000"},{"offset":0.6115,"color":"red"},{"offset":0.613,"color":"#f000"},
{"offset":0.62,"color":"#f000"},{"offset":0.6215,"color":"red"},{"offset":0.623,"color":"#f000"},
{"offset":0.63,"color":"#f000"},{"offset":0.6315,"color":"red"},{"offset":0.633,"color":"#f000"},
{"offset":0.64,"color":"#f000"},{"offset":0.6415,"color":"red"},{"offset":0.643,"color":"#f000"},
{"offset":0.65,"color":"#f000"},{"offset":0.6515,"color":"red"},{"offset":0.653,"color":"#f000"},
{"offset":0.66,"color":"#f000"},{"offset":0.6615,"color":"red"},{"offset":0.663,"color":"#f000"},
{"offset":0.67,"color":"#f000"},{"offset":0.6715,"color":"red"},{"offset":0.673,"color":"#f000"},
{"offset":0.68,"color":"#f000"},{"offset":0.6815,"color":"red"},{"offset":0.683,"color":"#f000"},
{"offset":0.69,"color":"#f000"},{"offset":0.6915,"color":"red"},{"offset":0.693,"color":"#f000"},
{"offset":0.7,"color":"#f000"},{"offset":0.7015,"color":"red"},{"offset":0.703,"color":"#f000"},
{"offset":0.71,"color":"#f000"},{"offset":0.7115,"color":"red"},{"offset":0.713,"color":"#f000"},
{"offset":0.72,"color":"#f000"},{"offset":0.7215,"color":"red"},{"offset":0.723,"color":"#f000"},
{"offset":0.73,"color":"#f000"},{"offset":0.7315,"color":"red"},{"offset":0.733,"color":"#f000"},
{"offset":0.74,"color":"#f000"},{"offset":0.7415,"color":"red"},{"offset":0.743,"color":"#f000"},
{"offset":0.75,"color":"#f000"},{"offset":0.7515,"color":"red"},{"offset":0.753,"color":"#f000"},
{"offset":0.76,"color":"#f000"},{"offset":0.7615,"color":"red"},{"offset":0.763,"color":"#f000"},
{"offset":0.77,"color":"#f000"},{"offset":0.7715,"color":"red"},{"offset":0.773,"color":"#f000"},
{"offset":0.78,"color":"#f000"},{"offset":0.7815,"color":"red"},{"offset":0.783,"color":"#f000"},
{"offset":0.79,"color":"#f000"},{"offset":0.7915,"color":"red"},{"offset":0.793,"color":"#f000"},
{"offset":0.8,"color":"#f000"},{"offset":0.8015,"color":"red"},{"offset":0.803,"color":"#f000"},
{"offset":0.81,"color":"#f000"},{"offset":0.8115,"color":"red"},{"offset":0.813,"color":"#f000"},
{"offset":0.82,"color":"#f000"},{"offset":0.8215,"color":"red"},{"offset":0.823,"color":"#f000"},
{"offset":0.83,"color":"#f000"},{"offset":0.8315,"color":"red"},{"offset":0.833,"color":"#f000"},
{"offset":0.84,"color":"#f000"},{"offset":0.8415,"color":"red"},{"offset":0.843,"color":"#f000"},
{"offset":0.85,"color":"#f000"},{"offset":0.8515,"color":"red"},{"offset":0.853,"color":"#f000"},
{"offset":0.86,"color":"#f000"},{"offset":0.8615,"color":"red"},{"offset":0.863,"color":"#f000"},
{"offset":0.87,"color":"#f000"},{"offset":0.8715,"color":"red"},{"offset":0.873,"color":"#f000"},
{"offset":0.88,"color":"#f000"},{"offset":0.8815,"color":"red"},{"offset":0.883,"color":"#f000"},
{"offset":0.89,"color":"#f000"},{"offset":0.8915,"color":"red"},{"offset":0.893,"color":"#f000"},
{"offset":0.9,"color":"#f000"},{"offset":0.9015,"color":"red"},{"offset":0.903,"color":"#f000"},
{"offset":0.91,"color":"#f000"},{"offset":0.9115,"color":"red"},{"offset":0.913,"color":"#f000"},
{"offset":0.92,"color":"#f000"},{"offset":0.9215,"color":"red"},{"offset":0.923,"color":"#f000"},
{"offset":0.93,"color":"#f000"},{"offset":0.9315,"color":"red"},{"offset":0.933,"color":"#f000"},
{"offset":0.94,"color":"#f000"},{"offset":0.9415,"color":"red"},{"offset":0.943,"color":"#f000"},
{"offset":0.95,"color":"#f000"},{"offset":0.9515,"color":"red"},{"offset":0.953,"color":"#f000"},
{"offset":0.96,"color":"#f000"},{"offset":0.9615,"color":"red"},{"offset":0.963,"color":"#f000"},
{"offset":0.97,"color":"#f000"},{"offset":0.9715,"color":"red"},{"offset":0.973,"color":"#f000"},
{"offset":0.98,"color":"#f000"},{"offset":0.9815,"color":"red"},{"offset":0.983,"color":"#f000"},
{"offset":0.99,"color":"#f000"},{"offset":0.9915,"color":"red"},{"offset":0.993,"color":"#f000"}
]}},
"encoding":{
"x":{"field":"e","type":"quantitative","scale":{"domain":[0,10],"nice":false,"zero":false},
"axis":{"title":"Neutron energy (MeV)","values":[0,0.5,1,1.5,2,2.5,3,3.5,4,4.5,5,5.5,6,6.5,7,7.5,8,8.5,9,9.5,10],"labelExpr":"datum.value % 2 === 0 ? datum.label : ''","tickSize":{"condition":{"test":"datum.value % 2 === 0","value":-12},"value":-6},"labelOffset":{"condition":{"test":"datum.value === 10","value":-5},"value":0},"labelPadding":15,"titlePadding":-2}},
"y":{"field":"v","type":"quantitative","scale":{"domain":[0,0.6],"nice":false},
"axis":{"title":"Efficiency","values":[0,0.05,0.1,0.15,0.2,0.25,0.3,0.35,0.4,0.45,0.5,0.55,0.6],
"labelExpr":"abs(datum.value*10 - round(datum.value*10)) < 0.001 ? (datum.value == 0 ? '0' : format(datum.value, '.1f')) : ''",
"tickSize":{"condition":{"test":"abs(datum.value*10 - round(datum.value*10)) < 0.001","value":-8},"value":-4},"labelPadding":12.5,"titlePadding":14}}
}
},
{
"data":{"name":"bot"},
"transform":[{"fold":["NDR"],"as":["series","v"]}],
"mark":{"type":"line","interpolate":"step-after","strokeWidth":1,"clip":true},
"encoding":{
"x":{"field":"e","type":"quantitative"},
"y":{"field":"v","type":"quantitative"},
"color":{"field":"series","type":"nominal","scale":{"domain":["NDR","NDL"],"range":["#000000","#ff0000"]},
"legend":{"title":null,"orient":"none","legendX":28.5,"legendY":8.7,"symbolSize":2116,"rowPadding":-9,"labelOffset":11.5}},
"strokeDash":{"field":"series","type":"nominal","scale":{"domain":["NDR","NDL"],"range":[[5,4],[1,0]]},
"legend":{"title":null,"orient":"none","legendX":28.5,"legendY":8.7,"symbolSize":2116,"rowPadding":-9,"labelOffset":11.5}}
}
},
{
"data":{"name":"bot"},
"transform":[{"fold":["NDL"],"as":["series","v"]}],
"mark":{"type":"line","interpolate":"step-after","strokeWidth":1.2,"clip":true},
"encoding":{
"x":{"field":"e","type":"quantitative"},
"y":{"field":"v","type":"quantitative"},
"color":{"field":"series","type":"nominal"},
"strokeDash":{"field":"series","type":"nominal"}
}
},
{
"data":{"values":[{}]},
"mark":{"type":"text","text":"(b)","font":"Liberation Sans","fontSize":25,"fontWeight":"bold","color":"#64829b"},
"encoding":{"x":{"datum":9.34,"type":"quantitative"},"y":{"datum":0.494,"type":"quantitative"}}
}
]
}
]
}
